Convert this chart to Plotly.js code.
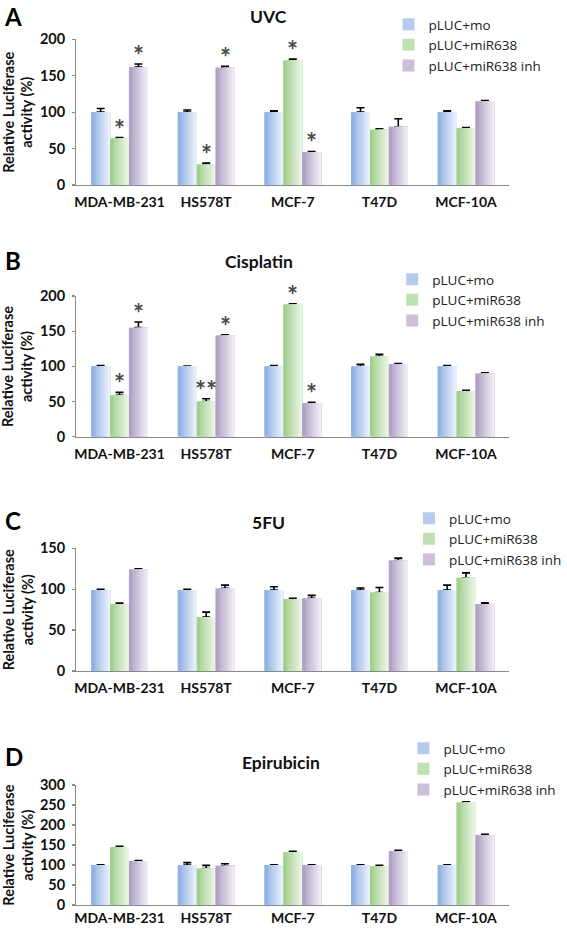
<!DOCTYPE html>
<html>
<head>
<meta charset="utf-8">
<script src="https://cdn.plot.ly/plotly-3.0.1.min.js"></script>
<style>html,body{margin:0;padding:0;background:#fff;}#chart{width:567px;height:929px;}</style>
</head>
<body>
<div id="chart"></div>
<script>
// ---------- DATA ----------
const categories = ['MDA-MB-231', 'HS578T', 'MCF-7', 'T47D', 'MCF-10A'];
const seriesNames = ['pLUC+mo', 'pLUC+miR638', 'pLUC+miR638 inh'];
const panelTitles = ['UVC', 'Cisplatin', '5FU', 'Epirubicin'];
const panelLetters = ['A', 'B', 'C', 'D'];
const yTicks = [[0, 50, 100, 150, 200], [0, 50, 100, 150, 200], [0, 50, 100, 150], [0, 50, 100, 150, 200, 250, 300]];

// A: UVC
const uvcMo = [100, 100, 100, 100, 100];
const uvcMoErr = [5, 3, 2, 6, 2];
const uvcMiR = [64, 28, 171, 76, 78];
const uvcMiRErr = [1, 2, 2, 1, 1];
const uvcInh = [162, 161, 45, 80, 115];
const uvcInhErr = [4, 2, 1, 11, 1];
const uvcMoStars = ['', '', '', '', ''];
const uvcMiRStars = ['*', '*', '*', '', ''];
const uvcInhStars = ['*', '*', '*', '', ''];

// B: Cisplatin
const cisMo = [100, 100, 100, 100, 100];
const cisMoErr = [1, 0.5, 1, 3, 1];
const cisMiR = [59, 50, 188, 114, 65];
const cisMiRErr = [4, 4, 1, 3, 1];
const cisInh = [155, 144, 48, 103, 90];
const cisInhErr = [8, 1, 1, 1, 1];
const cisMoStars = ['', '', '', '', ''];
const cisMiRStars = ['*', '**', '*', '', ''];
const cisInhStars = ['*', '*', '*', '', ''];

// C: 5FU
const fuMo = [99, 99, 99, 99, 99];
const fuMoErr = [1, 1, 4, 2.5, 6];
const fuMiR = [82, 66, 88, 96, 114];
const fuMiRErr = [1, 6, 1, 6, 6];
const fuInh = [124, 101, 89, 135, 82];
const fuInhErr = [1, 4, 3.5, 3, 1.5];
const fuMoStars = ['', '', '', '', ''];
const fuMiRStars = ['', '', '', '', ''];
const fuInhStars = ['', '', '', '', ''];

// D: Epirubicin
const epiMo = [100, 100, 100, 100, 100];
const epiMoErr = [0.5, 6, 0.5, 0.5, 0.5];
const epiMiR = [145, 91, 132, 97, 256];
const epiMiRErr = [2, 8, 2, 2, 2];
const epiInh = [110, 98, 100, 135, 175];
const epiInhErr = [1, 5, 0.5, 2, 2];
const epiMoStars = ['', '', '', '', ''];
const epiMiRStars = ['', '', '', '', ''];
const epiInhStars = ['', '', '', '', ''];

const panelValues = [[uvcMo, uvcMiR, uvcInh], [cisMo, cisMiR, cisInh], [fuMo, fuMiR, fuInh], [epiMo, epiMiR, epiInh]];
const panelErrors = [[uvcMoErr, uvcMiRErr, uvcInhErr], [cisMoErr, cisMiRErr, cisInhErr], [fuMoErr, fuMiRErr, fuInhErr], [epiMoErr, epiMiRErr, epiInhErr]];
const panelStars = [[uvcMoStars, uvcMiRStars, uvcInhStars], [cisMoStars, cisMiRStars, cisInhStars], [fuMoStars, fuMiRStars, fuInhStars], [epiMoStars, epiMiRStars, epiInhStars]];

// ---------- STYLE ----------
const W = 567, H = 929;
// gradient end colours (left -> right) per series
const gradEnds = [
  [[143, 178, 228], [234, 241, 251]],
  [[160, 207, 142], [236, 246, 231]],
  [[176, 161, 197], [241, 236, 246]]
];
const legendColors = ['#b4cbee', '#bfe0b2', '#cbbfda'];
const xDomainPx = [82, 548];
const yDomainPx = [[39.3, 185], [296, 436.7], [548.3, 671], [785, 905]]; // top, bottom
const xLabelStandoff = [4, 4, 4, 0];
const letterPos = [[14, 17], [14, 260], [14, 520], [15, 756]];
const titlePos = [[289, 17], [279, 261], [289, 522], [302, 762]];
const legendPos = [[418, 9], [422, 264], [440, 503], [434, 733]];
const barW = 0.218;
const nStripes = 12;
const yTickFont = {family: 'Lato, sans-serif', size: 14.5, weight: 'bold', color: '#111'};
const xTickFont = {family: 'Lato, sans-serif', size: 14, weight: 'bold', color: '#111'};

const px2x = p => p / W;
const py2y = p => 1 - p / H;
function stripeColor(s, k) {
  const t = k / (nStripes - 1);
  const a = gradEnds[s][0], b = gradEnds[s][1];
  const c = a.map((v, i) => Math.round(v + (b[i] - v) * t));
  return 'rgb(' + c.join(',') + ')';
}

const data = [];
const annotations = [];
const layout = {
  width: W, height: H,
  margin: {l: 0, r: 0, t: 0, b: 0},
  paper_bgcolor: '#fff', plot_bgcolor: 'rgba(0,0,0,0)',
  barmode: 'overlay',
  showlegend: true,
  font: {family: 'Lato, sans-serif', color: '#111'}
};

for (let p = 0; p < 4; p++) {
  const sfx = p === 0 ? '' : String(p + 1);
  const xa = 'x' + sfx, ya = 'y' + sfx;
  const legendName = 'legend' + sfx;
  const top = yDomainPx[p][0], bot = yDomainPx[p][1];
  const ticks = yTicks[p];
  layout['xaxis' + sfx] = {
    domain: [px2x(xDomainPx[0]), px2x(xDomainPx[1])],
    anchor: ya, type: 'category', categoryorder: 'array', categoryarray: categories,
    range: [-0.5, categories.length - 0.5],
    showline: true, linecolor: '#8a8a8a', linewidth: 1.2,
    ticks: '', showgrid: false, zeroline: false,
    tickfont: xTickFont, ticklabelstandoff: xLabelStandoff[p], fixedrange: true
  };
  layout['yaxis' + sfx] = {
    domain: [py2y(bot), py2y(top)],
    anchor: xa,
    range: [0, ticks[ticks.length - 1]],
    tickvals: ticks,
    showline: true, linecolor: '#8a8a8a', linewidth: 1.2,
    ticks: 'outside', ticklen: 3, tickcolor: '#8a8a8a', tickwidth: 1.2,
    showgrid: false, zeroline: false,
    tickfont: yTickFont, ticklabelstandoff: 4, fixedrange: true
  };
  layout[legendName] = {
    x: px2x(legendPos[p][0]), y: py2y(legendPos[p][1]),
    xanchor: 'left', yanchor: 'top',
    bgcolor: 'rgba(0,0,0,0)', borderwidth: 0,
    font: {family: 'Open Sans, sans-serif', size: 13.5, color: '#222'},
    tracegroupgap: 0, itemwidth: 30, traceorder: 'normal'
  };

  for (let s = 0; s < 3; s++) {
    const base = -1.5 * barW + s * barW;
    const vals = panelValues[p][s];
    const errs = panelErrors[p][s];
    for (let k = 0; k < nStripes; k++) {
      const tr = {
        type: 'bar', x: categories, y: vals,
        xaxis: xa, yaxis: ya,
        offset: base + k * barW / nStripes,
        width: barW * (nStripes - k) / nStripes,
        marker: {color: stripeColor(s, k), line: {width: 0}},
        hoverinfo: 'skip',
        name: seriesNames[s],
        showlegend: false,
        legend: legendName
      };
      if (k === 0) {
        tr.showlegend = true;
        tr.marker.color = legendColors[s];
        tr.error_y = {type: 'data', symmetric: false, array: errs, arrayminus: errs.map(() => 0),
                      color: '#000', thickness: 1.6, width: 4};
      } else if (k === 1) {
        // first stripe covers whole bar so the legend colour never shows on the bar itself
        tr.offset = base;
        tr.width = barW;
        tr.marker.color = stripeColor(s, 0);
      }
      data.push(tr);
    }
    // significance stars
    const stars = panelStars[p][s];
    stars.forEach((st, i) => {
      if (!st) return;
      annotations.push({
        xref: xa, yref: ya, x: i + base + barW / 2, y: vals[i] + errs[i],
        text: st, showarrow: false, xanchor: 'center', yanchor: 'bottom', yshift: -9,
        font: {family: 'Lato, sans-serif', size: 26, weight: 'bold', color: '#4a4a4a'}
      });
    });
  }

  annotations.push({
    xref: 'paper', yref: 'paper', x: px2x(letterPos[p][0]), y: py2y(letterPos[p][1]),
    text: panelLetters[p], showarrow: false, xanchor: 'center', yanchor: 'middle',
    font: {family: 'Lato, sans-serif', size: 24, weight: 'bold', color: '#000'}
  });
  annotations.push({
    xref: 'paper', yref: 'paper', x: px2x(titlePos[p][0]), y: py2y(titlePos[p][1]),
    text: panelTitles[p], showarrow: false, xanchor: 'center', yanchor: 'middle',
    font: {family: 'Lato, sans-serif', size: 17.5, weight: 'bold', color: '#111'}
  });
  annotations.push({
    xref: 'paper', yref: 'paper', x: px2x(19), y: py2y((top + bot) / 2),
    text: 'Relative Luciferase<br>activity (%)', showarrow: false, textangle: -90,
    xanchor: 'center', yanchor: 'middle',
    font: {family: 'Lato, sans-serif', size: 14.5, weight: 'bold', color: '#111'}
  });
}
layout.annotations = annotations;

Plotly.newPlot('chart', data, layout, {displayModeBar: false, staticPlot: true});
</script>
</body>
</html>
